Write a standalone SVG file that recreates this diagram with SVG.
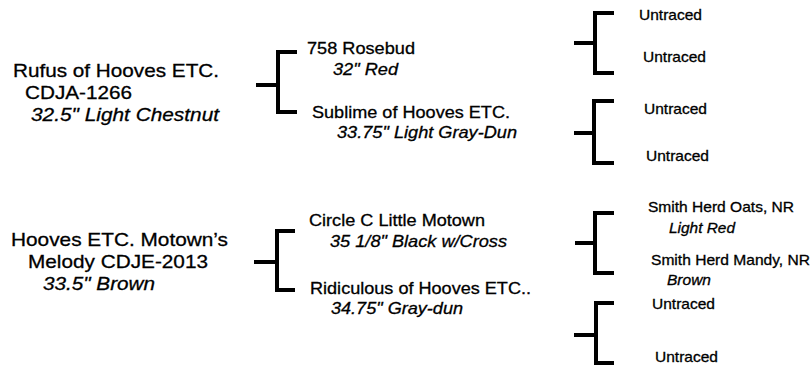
<svg xmlns="http://www.w3.org/2000/svg" width="812" height="366" viewBox="0 0 812 366">
<style>
text{font-family:"Liberation Sans",Arial,Helvetica,sans-serif;fill:#000;stroke:#000;stroke-width:0.3}
.l{font-size:19px}
.m{font-size:17px}
.r{font-size:14.5px}
.i{font-style:italic}
.c{fill:none;stroke:#000;stroke-width:4;stroke-linejoin:miter;stroke-linecap:butt}
</style>
<rect width="812" height="366" fill="#fff"/>
<g id="connectors" class="c">
<path d="M256,85 H278 M297,52 H278 V112 H297"/>
<path d="M574,43 H595 M614,13 H595 V73 H614"/>
<path d="M574,133 H594 M614,101 H594 V163 H614"/>
<path d="M254,262 H277 M295,231 H277 V290 H295"/>
<path d="M575,243 H595 M614,213 H595 V273 H614"/>
<path d="M574,335 H596 M614,303 H596 V363 H614"/>
</g>
<g id="rufus">
<text class="l" x="13" y="77" textLength="206" lengthAdjust="spacingAndGlyphs">Rufus of Hooves ETC.</text>
<text class="l" x="25" y="99" textLength="107" lengthAdjust="spacingAndGlyphs">CDJA-1266</text>
<text class="l i" x="31" y="121" textLength="188" lengthAdjust="spacingAndGlyphs">32.5" Light Chestnut</text>
</g>
<g id="motowns-melody">
<text class="l" x="11" y="246" textLength="217" lengthAdjust="spacingAndGlyphs">Hooves ETC. Motown’s</text>
<text class="l" x="28" y="268" textLength="180" lengthAdjust="spacingAndGlyphs">Melody CDJE-2013</text>
<text class="l i" x="43" y="290" textLength="112" lengthAdjust="spacingAndGlyphs">33.5" Brown</text>
</g>
<g id="rosebud">
<text class="m" x="307" y="54" textLength="108" lengthAdjust="spacingAndGlyphs">758 Rosebud</text>
<text class="m i" x="333" y="75" textLength="65" lengthAdjust="spacingAndGlyphs">32" Red</text>
</g>
<g id="sublime">
<text class="m" x="312" y="118" textLength="198" lengthAdjust="spacingAndGlyphs">Sublime of Hooves ETC.</text>
<text class="m i" x="337" y="138" textLength="180" lengthAdjust="spacingAndGlyphs">33.75" Light Gray-Dun</text>
</g>
<g id="circle-c">
<text class="m" x="309" y="226" textLength="176" lengthAdjust="spacingAndGlyphs">Circle C Little Motown</text>
<text class="m i" x="330" y="247" textLength="177" lengthAdjust="spacingAndGlyphs">35 1/8" Black w/Cross</text>
</g>
<g id="ridiculous">
<text class="m" x="310" y="294" textLength="221" lengthAdjust="spacingAndGlyphs">Ridiculous of Hooves ETC..</text>
<text class="m i" x="331" y="314" textLength="132" lengthAdjust="spacingAndGlyphs">34.75" Gray-dun</text>
</g>
<g id="untraced-1"><text class="r" x="639" y="20" textLength="63" lengthAdjust="spacingAndGlyphs">Untraced</text></g>
<g id="untraced-2"><text class="r" x="643" y="62" textLength="63" lengthAdjust="spacingAndGlyphs">Untraced</text></g>
<g id="untraced-3"><text class="r" x="644" y="114" textLength="63" lengthAdjust="spacingAndGlyphs">Untraced</text></g>
<g id="untraced-4"><text class="r" x="646" y="161" textLength="63" lengthAdjust="spacingAndGlyphs">Untraced</text></g>
<g id="oats">
<text class="r" x="648" y="212" textLength="146" lengthAdjust="spacingAndGlyphs">Smith Herd Oats, NR</text>
<text class="r i" x="669" y="233" textLength="66" lengthAdjust="spacingAndGlyphs">Light Red</text>
</g>
<g id="mandy">
<text class="r" x="651" y="265" textLength="159" lengthAdjust="spacingAndGlyphs">Smith Herd Mandy, NR</text>
<text class="r i" x="667" y="285" textLength="44" lengthAdjust="spacingAndGlyphs">Brown</text>
</g>
<g id="untraced-5"><text class="r" x="652" y="309" textLength="63" lengthAdjust="spacingAndGlyphs">Untraced</text></g>
<g id="untraced-6"><text class="r" x="655" y="362" textLength="63" lengthAdjust="spacingAndGlyphs">Untraced</text></g>
</svg>
